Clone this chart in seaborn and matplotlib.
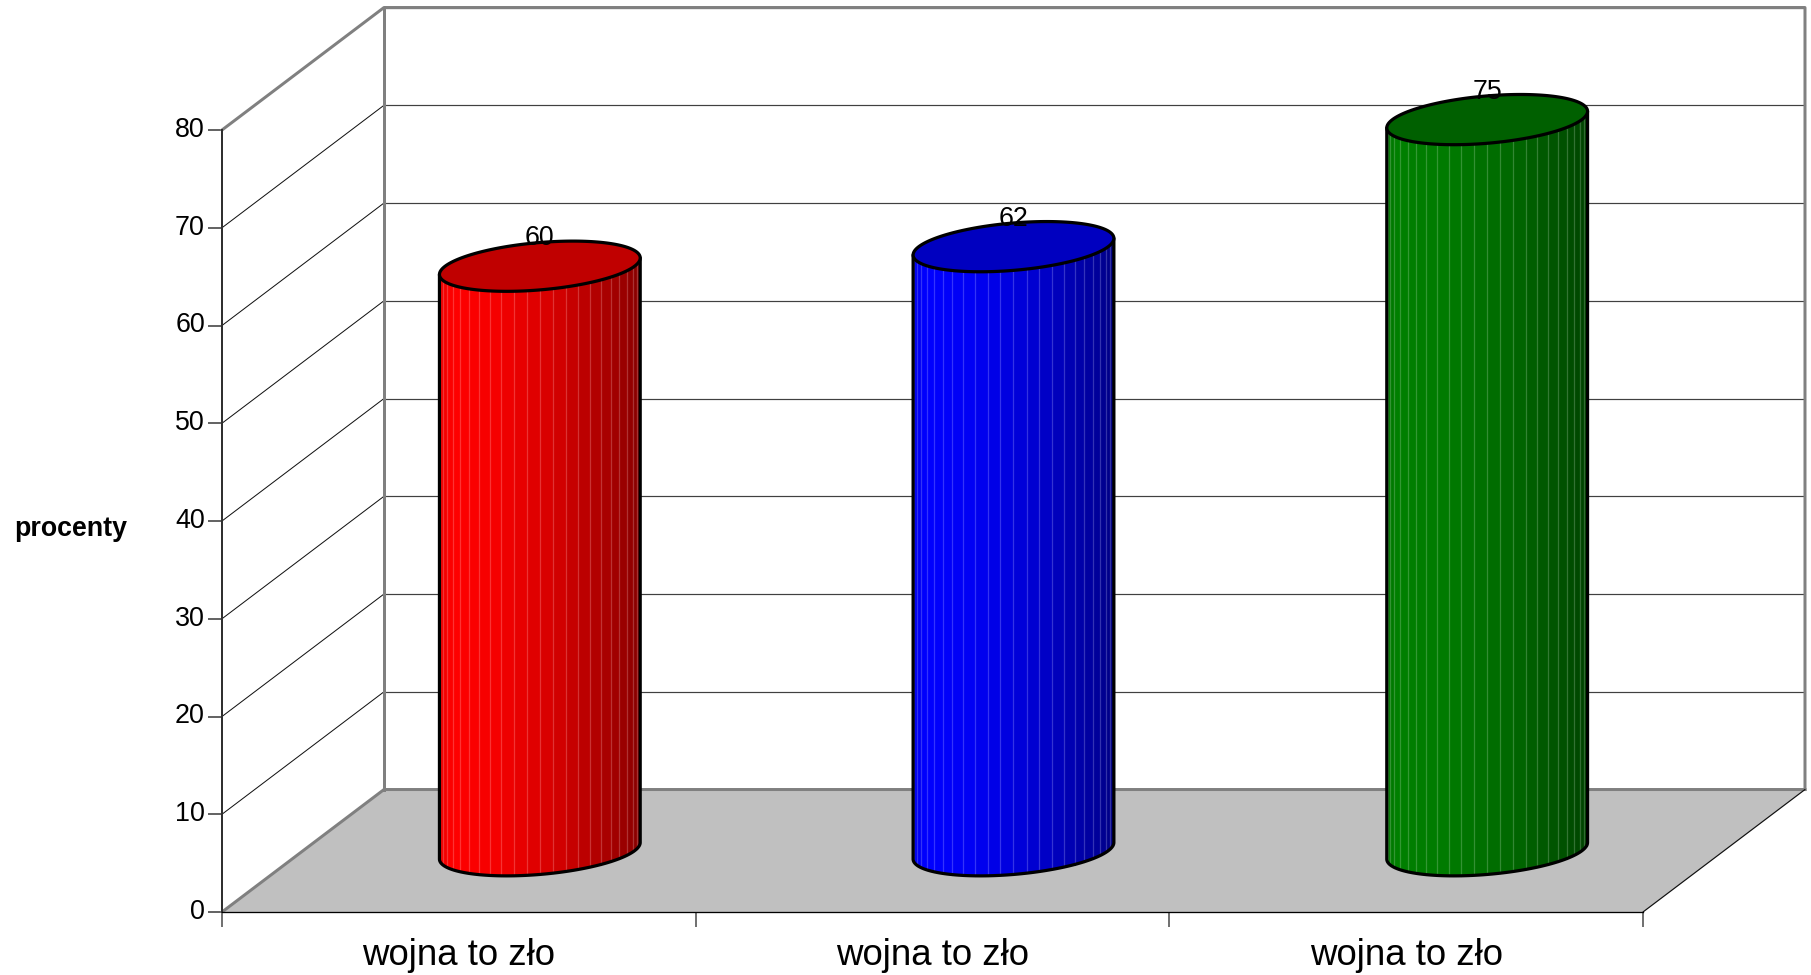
import numpy as np
import pandas as pd
import matplotlib
matplotlib.use("Agg")
import matplotlib.pyplot as plt
from matplotlib.patches import Polygon
from matplotlib.transforms import ScaledTranslation
import seaborn as sns

# data
cylinder_ids = [0, 1, 2]
category_labels = ["wojna to zło", "wojna to zło", "wojna to zło"]
values = [60, 62, 75]
body_colors = ["#ff0000", "#0000ff", "#008000"]
cap_colors = ["#c00000", "#0000c0", "#006000"]
y_ticks = [0, 10, 20, 30, 40, 50, 60, 70, 80]
y_label = "procenty"

# oblique projection of the chart's depth axis, in data units
DEPTH_X = 0.342
DEPTH_Y = 12.53
BAR_DEPTH = 0.5
BASE_DROP = 0.0
TOP_DROP = 0.2
RX = 0.2
RD = 0.205
LABEL_GAP = 2.85
GRAY = "#808080"
PX = 0.72  # one pixel in points at dpi 100

sns.set_theme(style="white")
plt.rcParams["font.family"] = ["Liberation Sans", "DejaVu Sans"]

W, H = 1811, 975
fig = plt.figure(figsize=(W / 100, H / 100), dpi=100, facecolor="white")
ax = fig.add_axes([222 / W, (H - 912) / H, (1643 - 222) / W, (912 - 130) / H])
ax.patch.set_visible(False)

df = pd.DataFrame({"id": cylinder_ids, "value": values})
sns.barplot(data=df, x="id", y="value", hue="id", palette=body_colors, legend=False,
            width=2 * np.hypot(RX, RD * DEPTH_X), saturation=1, ax=ax, zorder=4, linewidth=0)
ax.set_xlim(-0.5, 2.5)
ax.set_ylim(0, 80)
ax.set_xlabel("")
ax.set_ylabel("")

x0, x1 = ax.get_xlim()
ytop = ax.get_ylim()[1]
dx, dy = DEPTH_X, DEPTH_Y
bars = list(ax.patches)

# floor
ax.add_patch(Polygon([(x0, 0), (x1, 0), (x1 + dx, dy), (x0 + dx, dy)], closed=True,
                     facecolor="#c0c0c0", edgecolor="none", zorder=1, clip_on=False))
# wall grid
for v in y_ticks[1:]:
    ax.plot([x0, x0 + dx], [v, v + dy], color="#101010", lw=1.0 * PX, zorder=2, clip_on=False)
    ax.plot([x0 + dx, x1 + dx], [v + dy, v + dy], color="#404040", lw=1.2 * PX, zorder=2, clip_on=False)
# frame
frame_kw = dict(color=GRAY, lw=3 * PX, zorder=3, clip_on=False, solid_capstyle="projecting")
ax.plot([x0, x0 + dx, x1 + dx, x1 + dx], [ytop, ytop + dy, ytop + dy, dy], **frame_kw)
ax.plot([x0 + dx, x0 + dx], [ytop + dy, dy], **frame_kw)
ax.plot([x0, x0 + dx, x1 + dx], [0, dy, dy], **frame_kw)
ax.plot([x1, x1 + dx], [0, dy], color="#101010", lw=1.2 * PX, zorder=3, clip_on=False)


def shade(frac):
    pts = [0.0, 0.06, 0.28, 0.6, 0.92, 0.99, 1.0]
    lev = [0.92, 1.0, 0.96, 0.82, 0.6, 0.52, 0.45]
    return np.interp(frac, pts, lev)


for i, patch in enumerate(bars):
    xc = patch.get_x() + patch.get_width() / 2 + BAR_DEPTH * dx
    yc = BAR_DEPTH * dy - BASE_DROP
    h = patch.get_height() - TOP_DROP
    kx, ky = RD * dx, RD * dy
    t_r = np.arctan2(kx, RX)
    ts = np.linspace(t_r, t_r - np.pi, 121)
    ex = xc + RX * np.cos(ts) + kx * np.sin(ts)
    ey = yc + ky * np.sin(ts)
    sil = np.column_stack([np.r_[ex, ex[::-1]], np.r_[ey, ey[::-1] + h]])
    # the seaborn bar, moved to the middle of the floor and clipped to the cylinder
    patch.set_x(ex.min())
    patch.set_y(yc - 2 * ky)
    patch.set_height(h + 4 * ky)
    patch.set_clip_path(Polygon(sil, closed=True, transform=ax.transData))

    base = np.array(matplotlib.colors.to_rgb(body_colors[i]))
    n_strips = 24
    step = 5
    xmin, xmax = ex.min(), ex.max()
    for k in range(n_strips):
        a, b = k * step, (k + 1) * step
        xs = ex[a:b + 1]
        ys = ey[a:b + 1]
        frac = (xs.mean() - xmin) / (xmax - xmin)
        col = base * shade(frac)
        poly = np.column_stack([np.r_[xs, xs[::-1]], np.r_[ys, ys[::-1] + h]])
        ax.add_patch(Polygon(poly, closed=True, facecolor=col, edgecolor=col, lw=0.3,
                             zorder=5, clip_on=False))
        if k > 0:
            seam = col + (np.array([1, 1, 1]) - col) * 0.2
            ax.plot([xs[0], xs[0]], [ys[0], ys[0] + h], color=seam, lw=0.9, zorder=5.5, clip_on=False)
    # outline of the body
    ax.plot(np.r_[ex[0], ex, ex[-1]], np.r_[ey[0] + h, ey, ey[-1] + h], color="black",
            lw=3.2 * PX, zorder=6, clip_on=False, solid_joinstyle="round")
    # cap
    tt = np.linspace(0, 2 * np.pi, 181)
    cap = np.column_stack([xc + RX * np.cos(tt) + kx * np.sin(tt), yc + h + ky * np.sin(tt)])
    ax.add_patch(Polygon(cap, closed=True, facecolor=cap_colors[i], edgecolor="black",
                         lw=3.2 * PX, zorder=7, clip_on=False))
    ax.text(xc, yc + h + LABEL_GAP, str(values[i]), ha="center", va="center",
            fontsize=19.3, color="black", zorder=8, clip_on=False)

# axes
for s in ["top", "right"]:
    ax.spines[s].set_visible(False)
ax.spines["left"].set_color("#303030")
ax.spines["left"].set_linewidth(2 * PX)
ax.spines["left"].set_bounds(0, ytop)
ax.spines["bottom"].set_color("black")
ax.spines["bottom"].set_linewidth(1.3 * PX)
ax.spines["bottom"].set_zorder(3.5)
ax.spines["left"].set_zorder(3.5)

ax.set_yticks(y_ticks)
ax.set_yticklabels([str(v) for v in y_ticks], fontsize=19.4, color="black")
ax.tick_params(axis="y", which="major", left=True, length=14 * PX, width=1.6 * PX,
               color="#404040", pad=3 * PX)
lift = ScaledTranslation(0, 2.3 / 72, fig.dpi_scale_trans)
for lab in ax.get_yticklabels():
    lab.set_transform(lab.get_transform() + lift)
ax.set_xticks([x0, x0 + 1, x0 + 2, x0 + 3])
ax.set_xticklabels([])
ax.set_xticks(cylinder_ids, minor=True)
ax.set_xticklabels(category_labels, minor=True, fontsize=26.4, color="black")
ax.tick_params(axis="x", which="major", bottom=True, length=15 * PX, width=1.6 * PX, color="#505050")
ax.tick_params(axis="x", which="minor", bottom=False, length=0, pad=19)

fig.text(70.5 / W, 1 - 529 / H, y_label, fontsize=19.3, fontweight="bold", ha="center", va="center",
         color="black")

fig.savefig("out.png", dpi=100, facecolor="white")
